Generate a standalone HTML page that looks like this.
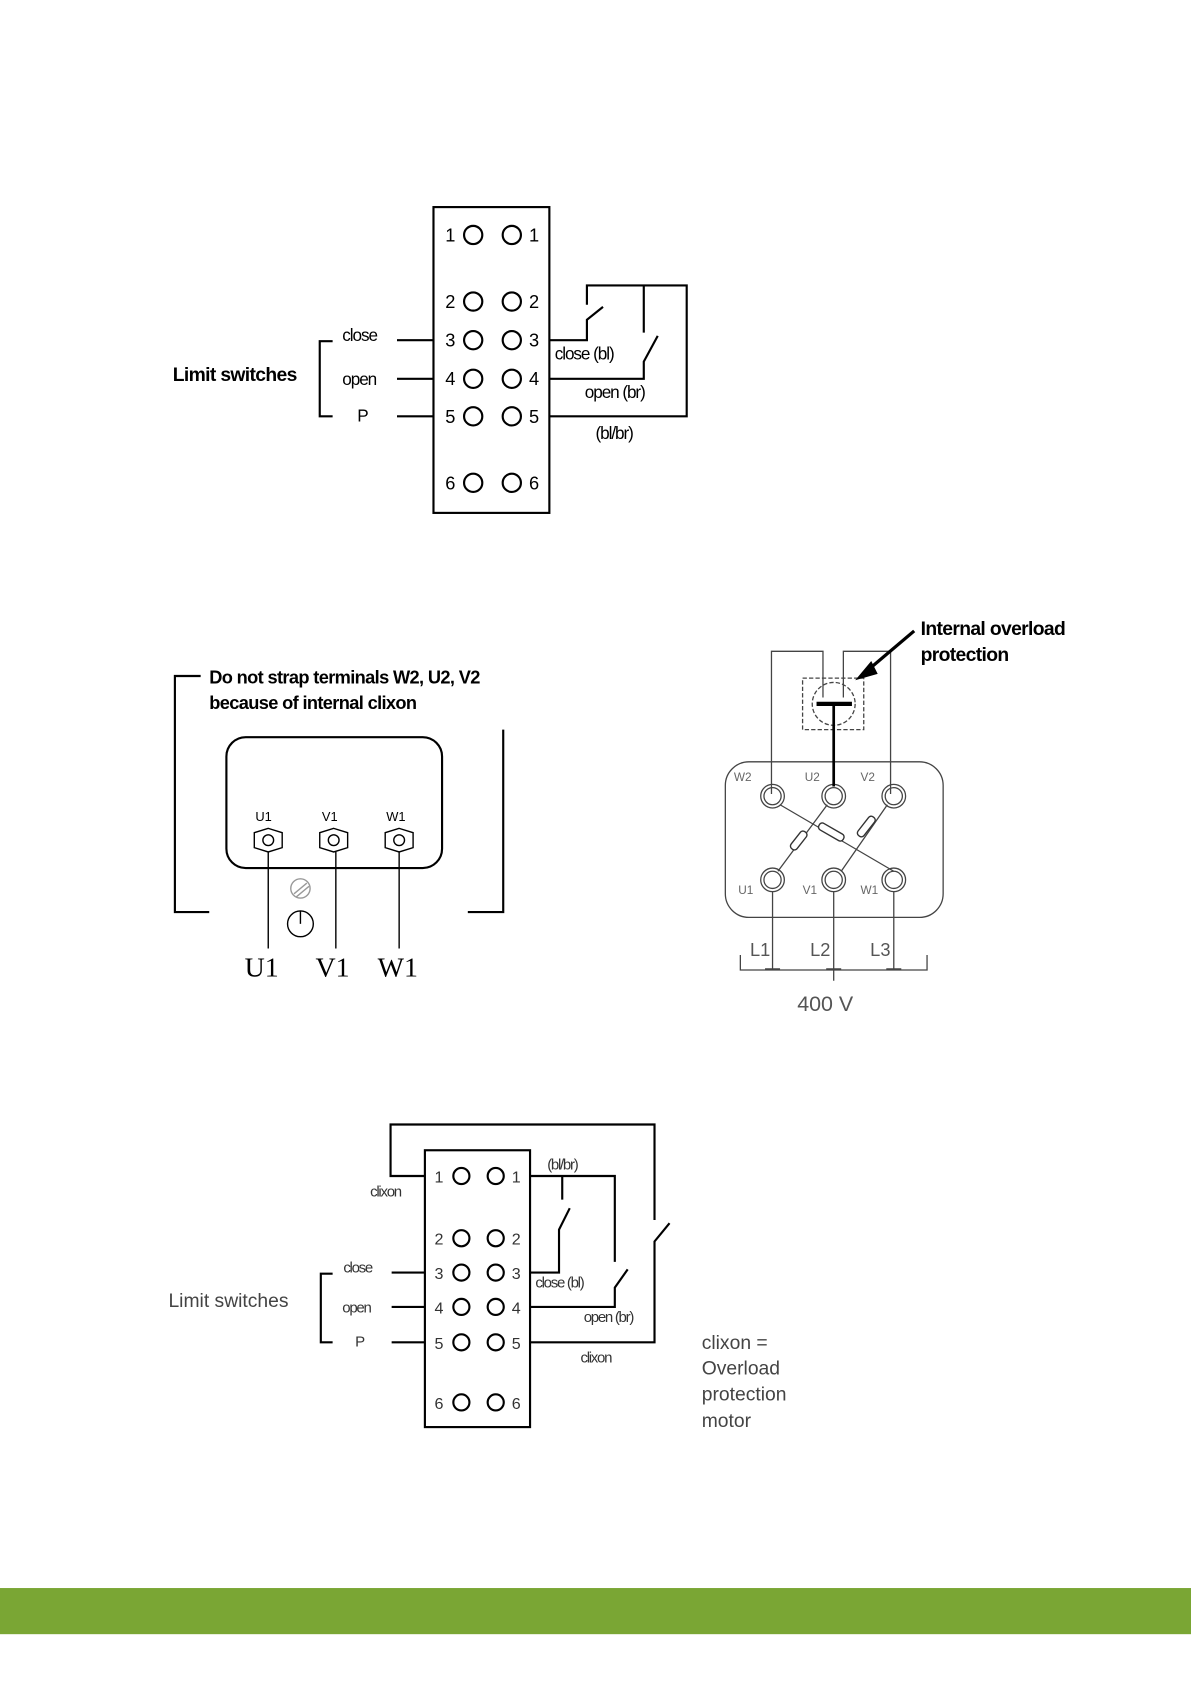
<!DOCTYPE html>
<html><head><meta charset="utf-8"><style>
html,body{margin:0;padding:0;background:#fff}
svg{display:block}
text{font-family:"Liberation Sans",sans-serif}
</style></head><body>
<svg width="1191" height="1683" viewBox="0 0 1110 1568.5" preserveAspectRatio="none" xmlns="http://www.w3.org/2000/svg">
<rect x="0" y="1480" width="1110" height="43" fill="#7aa634"/>
<g stroke="#000" fill="none" stroke-width="2">
<rect x="404" y="193" width="108" height="285"/>
<circle cx="441" cy="219" r="8.5"/><circle cx="477" cy="219" r="8.5"/>
<circle cx="441" cy="281" r="8.5"/><circle cx="477" cy="281" r="8.5"/>
<circle cx="441" cy="317" r="8.5"/><circle cx="477" cy="317" r="8.5"/>
<circle cx="441" cy="353" r="8.5"/><circle cx="477" cy="353" r="8.5"/>
<circle cx="441" cy="388" r="8.5"/><circle cx="477" cy="388" r="8.5"/>
<circle cx="441" cy="450" r="8.5"/><circle cx="477" cy="450" r="8.5"/>
<path d="M370 317H404M370 353H404M370 388H404"/>
<path d="M310 318H298V388H310"/>
<path d="M512 317H547V298L562 286M547 284V266H640V388H512"/>
<path d="M512 353H600V337L613 313M600 310V266"/>
<path d="M187 630H163V850H195"/>
<path d="M469 680V850H436"/>
<rect x="211" y="687" width="201" height="122" rx="18"/>
</g>
<g stroke="#000" fill="none" stroke-width="1.3">
<polygon points="250,772 263,776 263,790 250,794 237,790 237,776"/>
<circle cx="250" cy="783" r="5"/>
<polygon points="311,772 324,776 324,790 311,794 298,790 298,776"/>
<circle cx="311" cy="783" r="5"/>
<polygon points="372,772 385,776 385,790 372,794 359,790 359,776"/>
<circle cx="372" cy="783" r="5"/>
<path d="M250 794V884M313 794V884M372 794V884"/>
<circle cx="280" cy="828" r="9" stroke="#999"/>
<path d="M274 833L286 823M276 836L288 826" stroke="#999"/>
<circle cx="280" cy="861" r="12"/><path d="M280 849V861"/>
</g>
<g font-size="17" fill="#000" font-weight="bold" letter-spacing="-0.6">
<text x="195" y="637">Do not strap terminals W2, U2, V2</text>
<text x="195" y="661">because of internal clixon</text>
</g>
<g font-size="12" fill="#000"><text x="238" y="765">U1</text><text x="300" y="765">V1</text><text x="360" y="765">W1</text></g>
<g font-size="26" fill="#000"><text x="228" y="910" style="font-family:'Liberation Serif',serif">U1</text><text x="294" y="910" style="font-family:'Liberation Serif',serif">V1</text><text x="352" y="910" style="font-family:'Liberation Serif',serif">W1</text></g>
<g stroke="#444" fill="none" stroke-width="1.2">
<path d="M719 740V607H767V650M830 740V607H786V650"/>
<rect x="748" y="632" width="57" height="48" stroke-dasharray="4 2"/>
<circle cx="777" cy="656" r="20" stroke-dasharray="4 2"/>
<rect x="676" y="710" width="203" height="145" rx="22"/>
<circle cx="720" cy="742" r="11"/><circle cx="720" cy="742" r="8"/>
<circle cx="777" cy="742" r="11"/><circle cx="777" cy="742" r="8"/>
<circle cx="833" cy="742" r="11"/><circle cx="833" cy="742" r="8"/>
<circle cx="720" cy="820" r="11"/><circle cx="720" cy="820" r="8"/>
<circle cx="777" cy="820" r="11"/><circle cx="777" cy="820" r="8"/>
<circle cx="833" cy="820" r="11"/><circle cx="833" cy="820" r="8"/>
<path d="M727 750L833 812M771 750L725 812M827 750L784 812"/>
<path d="M720 831V903M777 831V903M833 831V903M713 903H727M770 903H784M826 903H840"/>
<path d="M690 890V904H864V890M777 904V914"/>
</g>
<g stroke="#333" fill="#fff" stroke-width="1.3">
<rect x="734" y="780" width="20" height="7" rx="3" transform="rotate(-52 744 783)"/>
<rect x="762" y="772" width="26" height="7" rx="3" transform="rotate(30 775 775)"/>
<rect x="796" y="767" width="22" height="7" rx="3" transform="rotate(-52 807 770)"/>
</g>
<path d="M777 656V733" stroke="#000" stroke-width="2.5"/>
<path d="M761 656H794" stroke="#000" stroke-width="4"/>
<path d="M852 588L806 627" stroke="#000" stroke-width="3"/>
<polygon points="797,634 812,616 818,628" fill="#000"/>
<g font-size="11" fill="#666"><text x="684" y="728">W2</text><text x="750" y="728">U2</text><text x="802" y="728">V2</text>
<text x="688" y="833">U1</text><text x="748" y="833">V1</text><text x="802" y="833">W1</text></g>
<g font-size="17" fill="#555"><text x="699" y="891">L1</text><text x="755" y="891">L2</text><text x="811" y="891">L3</text><text x="743" y="942" font-size="20">400 V</text></g>
<g font-size="18" fill="#000" font-weight="bold" letter-spacing="-0.6"><text x="858" y="592">Internal overload</text><text x="858" y="616">protection</text></g>
<g stroke="#000" fill="none" stroke-width="2">
<rect x="396" y="1072" width="98" height="258"/>
<circle cx="430" cy="1096" r="7.5"/><circle cx="462" cy="1096" r="7.5"/>
<circle cx="430" cy="1154" r="7.5"/><circle cx="462" cy="1154" r="7.5"/>
<circle cx="430" cy="1186" r="7.5"/><circle cx="462" cy="1186" r="7.5"/>
<circle cx="430" cy="1218" r="7.5"/><circle cx="462" cy="1218" r="7.5"/>
<circle cx="430" cy="1251" r="7.5"/><circle cx="462" cy="1251" r="7.5"/>
<circle cx="430" cy="1307" r="7.5"/><circle cx="462" cy="1307" r="7.5"/>
<path d="M396 1096H364V1048H610V1137"/>
<path d="M494 1251H610V1157L624 1140"/>
<path d="M494 1218H573V1200L585 1183M573 1176V1096H494"/>
<path d="M494 1186H521V1146L531 1126M524 1096V1118"/>
<path d="M365 1186H396M365 1218H396M365 1251H396"/>
<path d="M310 1187H299V1251H310"/>
</g>
<g fill="#000" font-size="18" font-weight="bold" letter-spacing="-0.6">
<text x="161" y="355">Limit switches</text>
</g>
<g fill="#000" font-size="16" letter-spacing="-1">
<text x="319" y="318">close</text><text x="319" y="359">open</text><text x="333" y="393">P</text>
<text x="517" y="335">close (bl)</text><text x="545" y="371">open (br)</text><text x="555" y="409">(bl/br)</text>
</g>
<g fill="#000" font-size="17">
<text x="415" y="225">1</text><text x="493" y="225">1</text>
<text x="415" y="287">2</text><text x="493" y="287">2</text>
<text x="415" y="323">3</text><text x="493" y="323">3</text>
<text x="415" y="359">4</text><text x="493" y="359">4</text>
<text x="415" y="394">5</text><text x="493" y="394">5</text>
<text x="415" y="456">6</text><text x="493" y="456">6</text>
</g>
<g fill="#333" font-size="15">
<text x="405" y="1102">1</text><text x="477" y="1102">1</text>
<text x="405" y="1160">2</text><text x="477" y="1160">2</text>
<text x="405" y="1192">3</text><text x="477" y="1192">3</text>
<text x="405" y="1224">4</text><text x="477" y="1224">4</text>
<text x="405" y="1257">5</text><text x="477" y="1257">5</text>
<text x="405" y="1313">6</text><text x="477" y="1313">6</text>
</g>
<g fill="#333" font-size="14" letter-spacing="-1.2">
<text x="345" y="1115">clixon</text><text x="510" y="1090">(bl/br)</text>
<text x="320" y="1186">close</text><text x="319" y="1223">open</text><text x="331" y="1255">P</text>
<text x="499" y="1200">close (bl)</text><text x="544" y="1232">open (br)</text><text x="541" y="1270">clixon</text>
</g>
<g fill="#444" font-size="18"><text x="157" y="1218">Limit switches</text>
<text x="654" y="1257">clixon =</text><text x="654" y="1281">Overload</text><text x="654" y="1305">protection</text><text x="654" y="1330">motor</text></g>
</svg>
</body></html>
